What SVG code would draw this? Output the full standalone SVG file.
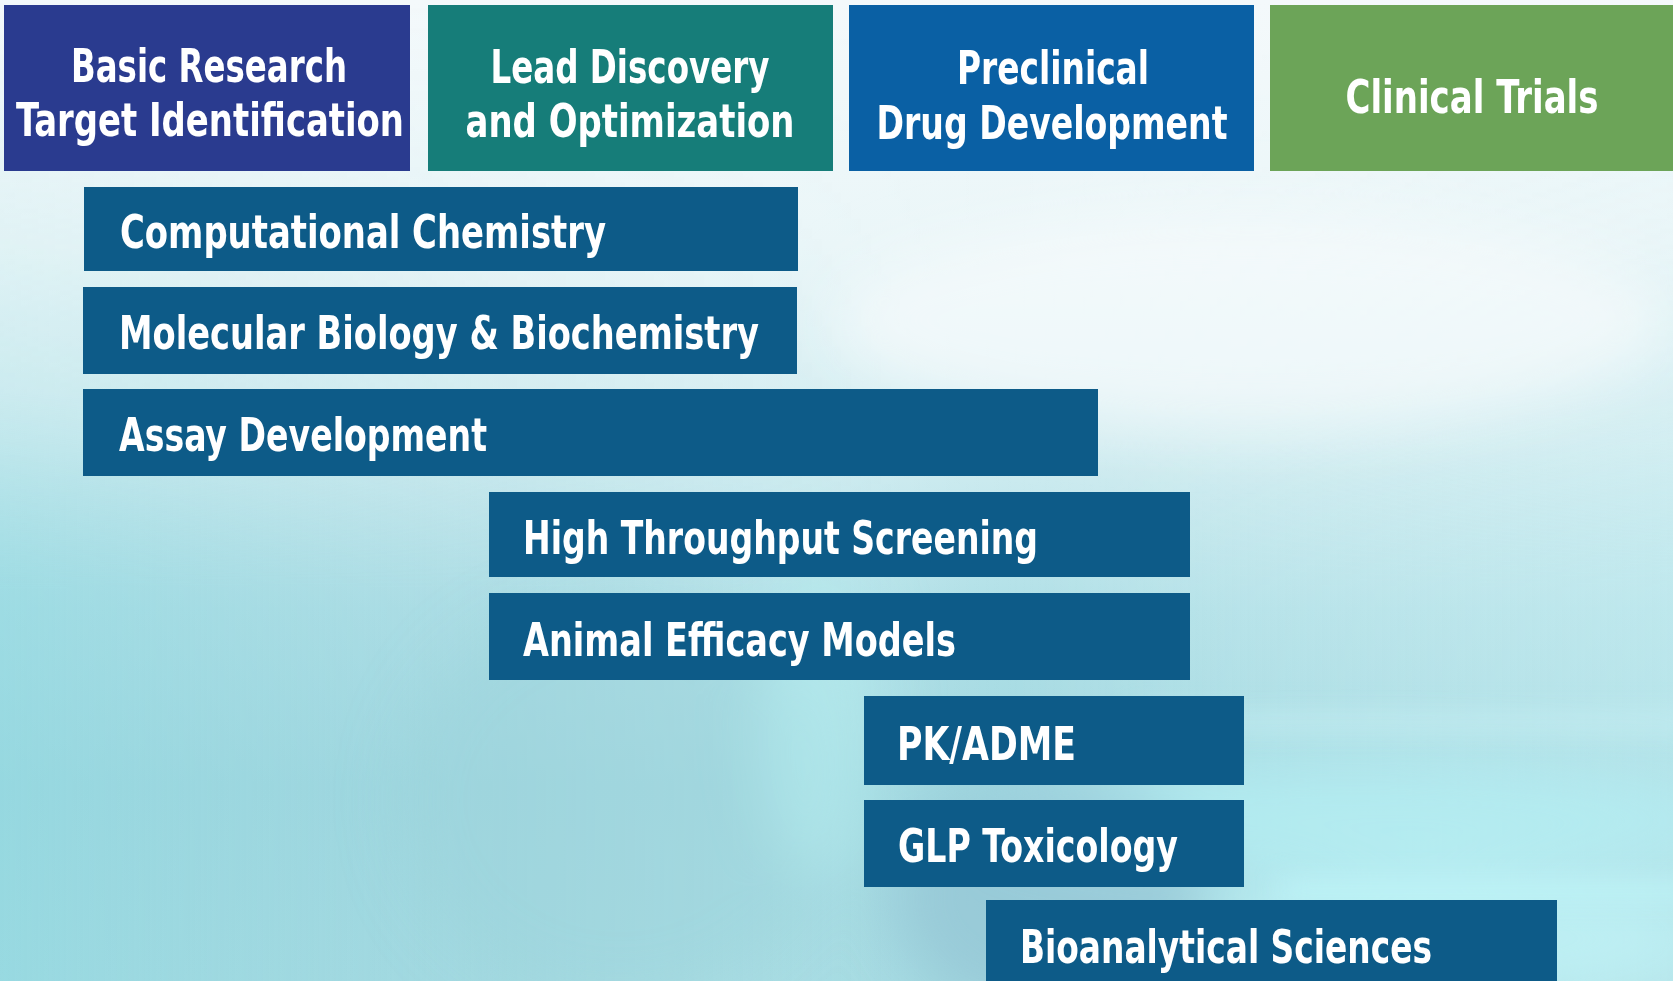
<svg xmlns="http://www.w3.org/2000/svg" width="1673" height="981" viewBox="0 0 1673 981">
  <defs>
    <linearGradient id="bg" x1="0" y1="0" x2="0" y2="1">
      <stop offset="0" stop-color="#F4F9FB"/>
      <stop offset="0.25" stop-color="#EAF6F8"/>
      <stop offset="0.45" stop-color="#D2EDF1"/>
      <stop offset="0.62" stop-color="#B0E0E7"/>
      <stop offset="0.8" stop-color="#A0D8E0"/>
      <stop offset="1" stop-color="#A4DBE2"/>
    </linearGradient>
    <linearGradient id="side" x1="0" y1="0" x2="1" y2="0">
      <stop offset="0" stop-color="#8ED8E0" stop-opacity="0.55"/>
      <stop offset="0.3" stop-color="#9FD3DD" stop-opacity="0.2"/>
      <stop offset="0.6" stop-color="#FFFFFF" stop-opacity="0"/>
      <stop offset="1" stop-color="#D8F6F8" stop-opacity="0.35"/>
    </linearGradient>
    <linearGradient id="fadeV" x1="0" y1="0" x2="0" y2="1">
      <stop offset="0" stop-color="#FFFFFF" stop-opacity="0"/>
      <stop offset="0.4" stop-color="#FFFFFF" stop-opacity="0.3"/>
      <stop offset="0.6" stop-color="#FFFFFF" stop-opacity="1"/>
      <stop offset="1" stop-color="#FFFFFF" stop-opacity="1"/>
    </linearGradient>
    <mask id="lowerMask">
      <rect x="0" y="0" width="1673" height="981" fill="url(#fadeV)"/>
    </mask>
    <filter id="blur" x="-50%" y="-50%" width="200%" height="200%">
      <feGaussianBlur stdDeviation="30"/>
    </filter>
    <filter id="blur2" x="-50%" y="-50%" width="200%" height="200%">
      <feGaussianBlur stdDeviation="12"/>
    </filter>
  </defs>
  <style>
    .phase text, .bar text { font-family: "DejaVu Sans Condensed", "DejaVu Sans", "Liberation Sans", sans-serif; font-weight: bold; font-size: 46px; fill: #FFFFFF; }
    .phase text { text-anchor: middle; }
    .bar rect { fill: #0D5B88; }
  </style>

  <!-- background -->
  <rect x="0" y="0" width="1673" height="981" fill="url(#bg)"/>
  <rect x="0" y="0" width="1673" height="981" fill="url(#side)" mask="url(#lowerMask)"/>
  <g filter="url(#blur)">
    <ellipse cx="1350" cy="820" rx="380" ry="60" fill="#B4EEF2" opacity="0.8"/>
    <ellipse cx="1050" cy="900" rx="160" ry="120" fill="#94C4D4" opacity="0.7"/>
    <ellipse cx="1450" cy="940" rx="260" ry="60" fill="#BFF3F6" opacity="0.8"/>
    <ellipse cx="620" cy="800" rx="220" ry="200" fill="#9ED3DC" opacity="0.5"/>
    <ellipse cx="820" cy="720" rx="60" ry="160" fill="#B6ECEF" opacity="0.6"/>
    <ellipse cx="1250" cy="320" rx="420" ry="110" fill="#F6FBFC" opacity="0.7"/>
  </g>
  <g filter="url(#blur2)">
    <rect x="1280" y="880" width="420" height="22" fill="#BDF4F7" opacity="0.8"/>
    <rect x="1130" y="710" width="560" height="24" fill="#C8F2F5" opacity="0.5"/>
  </g>

  <!-- phase headers -->
  <g id="phase-basic-research" class="phase">
    <rect x="4" y="5" width="406" height="166" fill="#2A3B8F"/>
    <text x="209" y="82" textLength="276" lengthAdjust="spacingAndGlyphs">Basic Research</text>
    <text x="210" y="136" textLength="388" lengthAdjust="spacingAndGlyphs">Target Identification</text>
  </g>
  <g id="phase-lead-discovery" class="phase">
    <rect x="428" y="5" width="405" height="166" fill="#167D79"/>
    <text x="630" y="83" textLength="279" lengthAdjust="spacingAndGlyphs">Lead Discovery</text>
    <text x="630" y="137" textLength="329" lengthAdjust="spacingAndGlyphs">and Optimization</text>
  </g>
  <g id="phase-preclinical" class="phase">
    <rect x="849" y="5" width="405" height="166" fill="#0A60A4"/>
    <text x="1053" y="84" textLength="192" lengthAdjust="spacingAndGlyphs">Preclinical</text>
    <text x="1052" y="139" textLength="351" lengthAdjust="spacingAndGlyphs">Drug Development</text>
  </g>
  <g id="phase-clinical-trials" class="phase">
    <rect x="1270" y="5" width="403" height="166" fill="#6CA458"/>
    <text x="1472" y="113" textLength="253" lengthAdjust="spacingAndGlyphs">Clinical Trials</text>
  </g>

  <!-- service bars -->
  <g id="bar-computational-chemistry" class="bar">
    <rect x="84" y="187" width="714" height="84"/>
    <text x="120" y="248" textLength="486" lengthAdjust="spacingAndGlyphs">Computational Chemistry</text>
  </g>
  <g id="bar-molecular-biology" class="bar">
    <rect x="83" y="287" width="714" height="87"/>
    <text x="119" y="349" textLength="640" lengthAdjust="spacingAndGlyphs">Molecular Biology &amp; Biochemistry</text>
  </g>
  <g id="bar-assay-development" class="bar">
    <rect x="83" y="389" width="1015" height="87"/>
    <text x="119" y="451" textLength="368" lengthAdjust="spacingAndGlyphs">Assay Development</text>
  </g>
  <g id="bar-high-throughput-screening" class="bar">
    <rect x="489" y="492" width="701" height="85"/>
    <text x="523" y="554" textLength="515" lengthAdjust="spacingAndGlyphs">High Throughput Screening</text>
  </g>
  <g id="bar-animal-efficacy-models" class="bar">
    <rect x="489" y="593" width="701" height="87"/>
    <text x="523" y="656" textLength="433" lengthAdjust="spacingAndGlyphs">Animal Efficacy Models</text>
  </g>
  <g id="bar-pk-adme" class="bar">
    <rect x="864" y="696" width="380" height="89"/>
    <text x="897" y="760" textLength="179" lengthAdjust="spacingAndGlyphs">PK/ADME</text>
  </g>
  <g id="bar-glp-toxicology" class="bar">
    <rect x="864" y="800" width="380" height="87"/>
    <text x="898" y="862" textLength="280" lengthAdjust="spacingAndGlyphs">GLP Toxicology</text>
  </g>
  <g id="bar-bioanalytical-sciences" class="bar">
    <rect x="986" y="900" width="571" height="81"/>
    <text x="1020" y="963" textLength="412" lengthAdjust="spacingAndGlyphs">Bioanalytical Sciences</text>
  </g>

  <g id="connectors"/>
</svg>
